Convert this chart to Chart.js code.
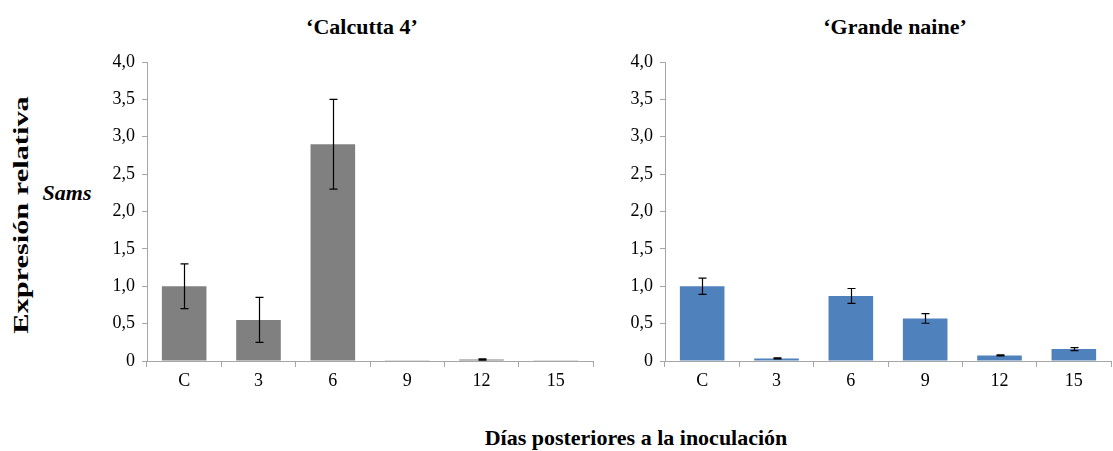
<!DOCTYPE html>
<html>
<head>
<meta charset="utf-8">
<script src="https://cdn.jsdelivr.net/npm/chart.js@4"></script>
<style>
  body { margin: 0; background: #fff; width: 1113px; height: 451px; overflow: hidden; position: relative; font-family: 'Liberation Serif', serif; }
  .box { position: absolute; }
  .title { position: absolute; font-weight: bold; font-size: 22px; white-space: nowrap; transform: translate(-50%, -50%); }
  .ytitle { position: absolute; left: 21px; top: 215px; font-weight: bold; font-size: 22px; white-space: nowrap; transform: translate(-50%, -50%) rotate(-90deg) scale(1.38, 1); }
  .gene { position: absolute; left: 67px; top: 193px; font-weight: bold; font-style: italic; font-size: 22px; transform: translate(-50%, -50%); }
  .xtitle { position: absolute; left: 636px; top: 438px; font-weight: bold; font-size: 22px; white-space: nowrap; transform: translate(-50%, -50%); }
</style>
</head>
<body>
<div class="title" style="left:362px; top:27px;">‘Calcutta 4’</div>
<div class="title" style="left:895px; top:27px;">‘Grande naine’</div>
<div class="ytitle">Expresión relativa</div>
<div class="gene">Sams</div>
<div class="xtitle">Días posteriores a la inoculación</div>
<div class="box" style="left:100px; top:40px; width:500px; height:360px;"><canvas id="left"></canvas></div>
<div class="box" style="left:618px; top:40px; width:495px; height:360px;"><canvas id="right"></canvas></div>
<script>
// data
var days = ['C', '3', '6', '9', '12', '15'];
var yTickLabels = ['0', '0,5', '1,0', '1,5', '2,0', '2,5', '3,0', '3,5', '4,0'];

var calcutta = [1.0, 0.55, 2.9, 0.01, 0.02, 0.005];
var calcuttaErr = [0.3, 0.3, 0.6, 0.0, 0.008, 0.0];

var grande = [1.0, 0.035, 0.87, 0.57, 0.075, 0.16];
var grandeErr = [0.11, 0.006, 0.1, 0.065, 0.008, 0.02];

var serif = "'Liberation Serif', 'Times New Roman', serif";
Chart.defaults.font.family = serif;
Chart.defaults.color = '#000';

var errorBars = {
    id: 'errorBars',
    afterDatasetsDraw(chart, args, opts) {
        var ctx = chart.ctx;
        var y = chart.scales.y;
        var meta = chart.getDatasetMeta(0);
        var vals = chart.data.datasets[0].data;
        ctx.save();
        ctx.strokeStyle = '#000';
        ctx.lineWidth = 1.2;
        meta.data.forEach(function (bar, i) {
            var e = opts.err[i];
            if (!e) return;
            var x = Math.round(bar.x) + 0.5;
            var top = y.getPixelForValue(vals[i] + e);
            var bot = y.getPixelForValue(vals[i] - e);
            ctx.beginPath();
            ctx.moveTo(x, top); ctx.lineTo(x, bot);
            ctx.moveTo(x - 4, top); ctx.lineTo(x + 4, top);
            ctx.moveTo(x - 4, bot); ctx.lineTo(x + 4, bot);
            ctx.stroke();
        });
        ctx.restore();
    }
};

function makeChart(id, values, errs, color, rightPad) {
    return new Chart(document.getElementById(id), {
        type: 'bar',
        data: {
            labels: days,
            datasets: [{
                data: values,
                backgroundColor: color,
                borderWidth: 0,
                barPercentage: 0.6,
                categoryPercentage: 1.0
            }]
        },
        options: {
            responsive: true,
            maintainAspectRatio: false,
            animation: false,
            layout: { padding: { top: 22, right: rightPad, left: 0, bottom: 0 } },
            plugins: {
                legend: { display: false },
                tooltip: { enabled: false },
                errorBars: { err: errs }
            },
            scales: {
                x: {
                    grid: { offset: true, drawOnChartArea: false, color: '#a6a6a6', tickLength: 6 },
                    border: { color: '#a6a6a6' },
                    ticks: { font: { family: serif, size: 18 }, padding: 3 },
                    afterFit: function (s) { s.height = 39; }
                },
                y: {
                    min: 0, max: 4,
                    grid: { drawOnChartArea: false, color: '#a6a6a6', tickLength: 5 },
                    border: { color: '#a6a6a6' },
                    ticks: {
                        stepSize: 0.5,
                        font: { family: serif, size: 18 },
                        padding: 7,
                        callback: function (v, i) { return yTickLabels[i]; }
                    },
                    afterFit: function (s) { s.width = 47; }
                }
            }
        },
        plugins: [errorBars]
    });
}

function draw() {
    makeChart('left', calcutta, calcuttaErr, '#808080', 7);
    makeChart('right', grande, grandeErr, '#4f81bd', 2);
}

if (document.fonts && document.fonts.load) {
    document.fonts.load('18px "Liberation Serif"').then(draw, draw);
} else {
    draw();
}
</script>
</body>
</html>
